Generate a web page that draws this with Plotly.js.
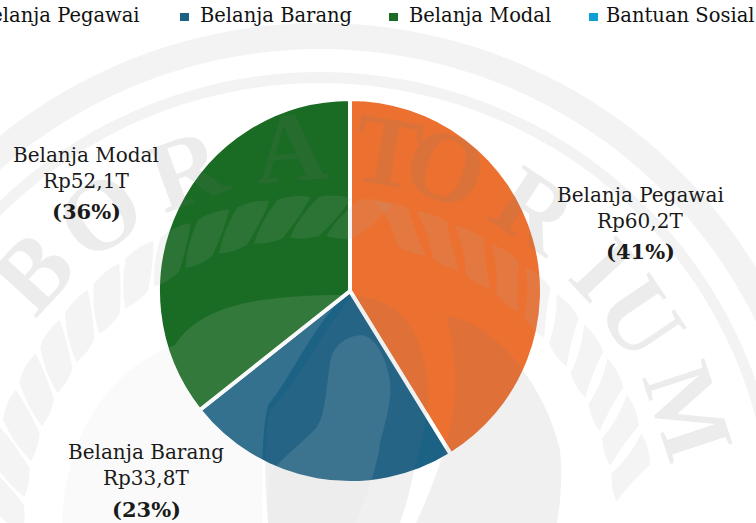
<!DOCTYPE html>
<html><head><meta charset="utf-8">
<script src="https://cdn.plot.ly/plotly-3.0.1.min.js"></script>
<style>html,body{margin:0;padding:0;background:#fff;overflow:hidden}#c{width:756px;height:523px}</style>
</head><body><div id="c"></div>
<script>
const categories=["Belanja Pegawai","Belanja Barang","Belanja Modal","Bantuan Sosial"];
const values=[60.2,33.8,52.1,0];
const valueText=["Rp60,2T","Rp33,8T","Rp52,1T"];
const percentText=["41%","23%","36%"];
const colors=["#EC7130","#1B6285","#1A6B24","#0F9ED5"];
const labelX=[640,146,86];
const labelY=[195,452,155];
const legendTextX=[-25,198,407,604];
const wmLetters=["B","O","R","A","T","O","R","I","U","M"];
const wmAngles=[-47.7,-34.5,-20,-4.4,10,19,33.6,47,56,71.6];

const F="DejaVu Serif", WF="Liberation Serif";
const W=756,H=523,CX=320,CY=534;
const P=s=>s.replace(/(-?[\d.]+) (-?[\d.]+)/g,(m,x,y)=>(x/W)+' '+(1-y/H));
const shapes=[];
const polar=(r,deg)=>{const q=deg*Math.PI/180;return (CX+r*Math.sin(q)).toFixed(1)+' '+(CY-r*Math.cos(q)).toFixed(1);};
function ring(r1,r2,col){
  let d=[];
  for(let a=-110;a<=110;a+=2)d.push(polar(r1,a));
  for(let a=110;a>=-110;a-=2)d.push(polar(r2,a));
  shapes.push({type:'path',xref:'paper',yref:'paper',layer:'below',path:P('M '+d.join(' L ')+' Z'),fillcolor:col,line:{width:0}});
}
ring(511,485,'rgba(120,120,130,.09)');
ring(462,451,'rgba(120,120,130,.09)');
function blob(d,col){shapes.push({type:'path',xref:'paper',yref:'paper',layer:'above',path:P(d),fillcolor:col,line:{width:0}});}
const GR='rgba(120,120,130,.11)',LT='rgba(216,216,218,.13)';
blob("M 352 296 C 400 296 425 335 428 385 C 430 420 420 445 412 480 C 408 500 404 510 400 523 L 268 523 C 265 480 263 440 270 410 C 300 380 315 340 352 296 Z",GR);
blob("M 447 316 C 495 322 545 385 560 450 C 563 480 560 505 557 523 L 416 523 C 440 470 458 420 455 370 C 453 345 450 330 447 316 Z",GR);
blob("M 62 523 C 65 440 105 370 175 345 C 200 305 260 295 345 295 C 310 330 290 380 268 405 C 262 430 262 470 262 523 Z",LT);
blob("M 360 335 C 340 338 332 350 330 363 C 326 390 325 415 317 427 C 300 445 285 455 273 470 C 268 480 268 500 268 523 L 355 523 C 365 500 378 465 380 443 C 386 420 392 400 390 380 C 385 355 375 335 360 335 Z",LT);
/* wreath of leaves */
for(let a=-87;a<=87;a+=7){
  if(a>8&&a<14)continue;
  const s=a<8?1:-1, w=2.8, sl=5.6*s;
  blob(`M ${polar(298,a-w)} Q ${polar(318,a-w+sl*.35)} ${polar(337,a-w+sl)} Q ${polar(341,a+sl)} ${polar(337,a+w+sl)} Q ${polar(318,a+w+sl*.65)} ${polar(298,a+w)} Q ${polar(294,a)} ${polar(298,a-w)} Z`,'rgba(170,170,175,.13)');
}
const annotations=[];
/* watermark lettering */
wmLetters.forEach((ch,i)=>{
  const t=wmAngles[i]*Math.PI/180;
  annotations.push({xref:'paper',yref:'paper',x:(CX+388*Math.sin(t))/W,y:1-(CY-388*Math.cos(t))/H,xanchor:'center',yanchor:'middle',text:'<b>'+ch+'</b>',showarrow:false,textangle:wmAngles[i],
    font:{family:WF,size:100,color:'rgba(120,120,120,.14)'}});
});
/* data labels */
function label(x,y,txt,size,col,anchor){
  annotations.push({xref:'paper',yref:'paper',x:x/W,y:1-y/H,xanchor:anchor||'center',yanchor:'middle',showarrow:false,text:txt,font:{family:F,size:size,color:col}});
}
[0,1,2].forEach(i=>{
  label(labelX[i],labelY[i],categories[i],20,'#1a1a1a');
  label(labelX[i],labelY[i]+26,valueText[i],20,'#1a1a1a');
  label(labelX[i],labelY[i]+57,'<b>('+percentText[i]+')</b>',21,'#1a1a1a');
});
/* legend row */
categories.forEach((c,i)=>{
  label(legendTextX[i],16,c,19.5,'#111','left');
  const sx=legendTextX[i]-15-(i<3?3:0);
  shapes.push({type:'rect',xref:'paper',yref:'paper',layer:'above',x0:sx/W,x1:(sx+9)/W,y0:1-21/H,y1:1-13/H,fillcolor:colors[i],line:{width:0}});
});
Plotly.newPlot('c',[{type:'pie',labels:categories,values:values,sort:false,direction:'clockwise',rotation:0,
  marker:{colors:colors,line:{color:'#fff',width:4}},textinfo:'none',hoverinfo:'label+value+percent',
  domain:{x:[158/W,542/W],y:[1-483/H,1-99/H]}}],
 {width:W,height:H,margin:{l:0,r:0,t:0,b:0},paper_bgcolor:'#fff',showlegend:false,shapes,annotations},
 {displayModeBar:false,staticPlot:true});
</script></body></html>
